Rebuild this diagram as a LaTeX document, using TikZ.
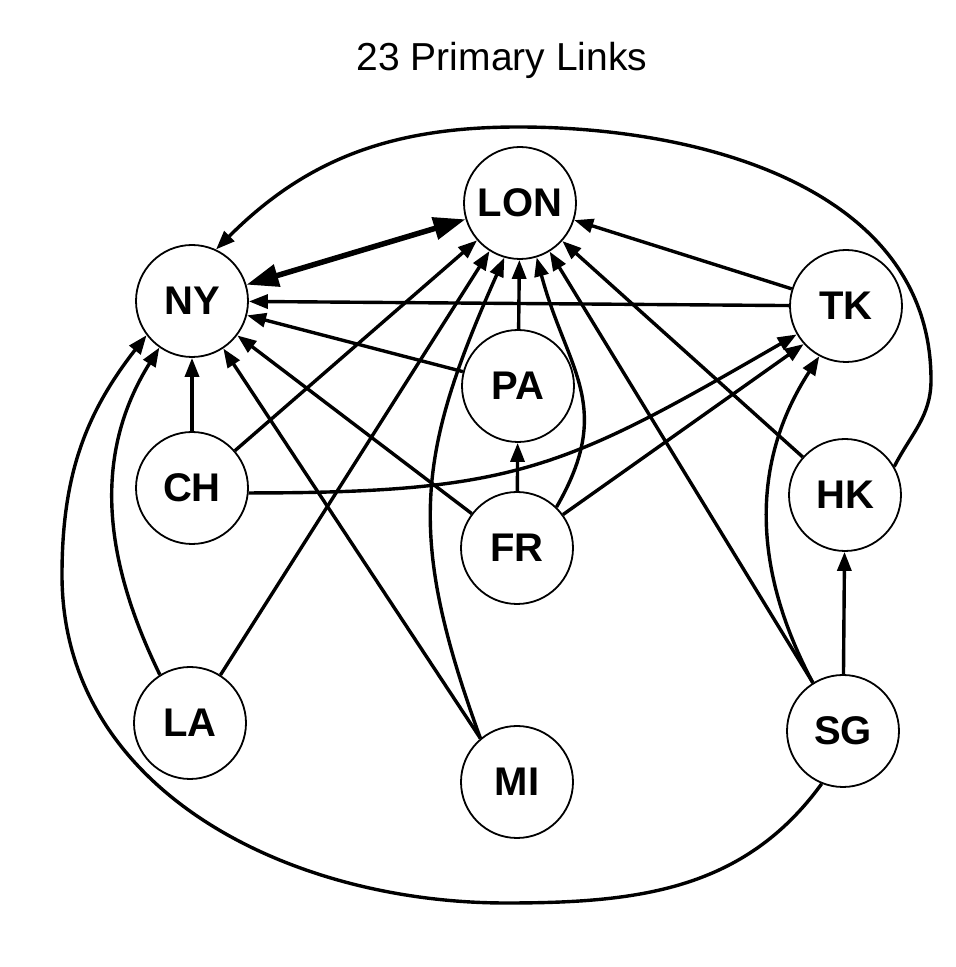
\documentclass[tikz,border=0pt]{standalone}
\usepackage{fontspec}
\setmainfont{Liberation Sans}
\usetikzlibrary{arrows.meta}
\begin{document}
\begin{tikzpicture}[x=1pt,y=1pt,
  city/.style={circle, draw, line width=1.8pt, minimum size=112pt, inner sep=0pt,
    font=\fontsize{40}{42}\selectfont\bfseries},
  link/.style={line width=3.4pt, -{Triangle[length=19pt,width=14pt]}},
  biglink/.style={line width=5.5pt, {Triangle[length=32pt,width=22pt]}-{Triangle[length=32pt,width=22pt]}}]
\useasboundingbox (0,0) rectangle (956,967);
\fill[white] (0,0) rectangle (956,967);
\node[font=\fontsize{39}{41}\selectfont] (title) at (502,907) {23 Primary Links};
\node[city] (LON) at (520,764) {LON};
\node[city] (NY) at (192,666) {NY};
\node[city] (TK) at (846,661) {TK};
\node[city] (PA) at (518,581) {PA};
\node[city] (CH) at (192,479) {CH};
\node[city] (HK) at (845,472) {HK};
\node[city] (FR) at (517,419) {FR};
\node[city] (LA) at (190,244) {LA};
\node[city] (MI) at (517,185) {MI};
\node[city] (SG) at (843,236) {SG};
\coordinate (bottom) at (506,64);
\coordinate (left) at (62,392);
\coordinate (right) at (931,587);
\coordinate (top) at (518,840);
% straight links
\draw[biglink] (NY) -- (LON);
\draw[link] (TK) -- (LON);
\draw[link] (TK) -- (NY);
\draw[link] (PA) -- (NY);
\draw[link] (PA) -- (LON);
\draw[link] (CH) -- (NY);
\draw[link] (CH) -- (LON);
\draw[link] (LA) -- (LON);
\draw[link] (FR) -- (PA);
\draw[link] (FR) -- (NY);
\draw[link] (FR.36) -- (TK.-138);
\draw[link] (MI.130) -- (NY);
\draw[link] (HK) -- (LON);
\draw[link] (SG.122) -- (LON);
\draw[link] (SG) -- (HK);
% curved links
\draw[link] (LA.122) to[out=116,in=-122] (NY.-125);
\draw[link] (CH.-5) to[out=0,in=-150,looseness=1.2] (TK.-150);
\draw[link] (FR.46) to[out=60,in=-75,looseness=1.2] (LON.-73);
\draw[link] (MI.130) to[out=110,in=-114,looseness=1.15] (LON.-106);
\draw[link] (SG.122) to[out=118,in=-123] (TK.-118);
\draw[link] (SG.-112) to[out=-126,in=0] (bottom) to[out=180,in=-90] (left) to[out=90,in=-128] (NY.-143);
\draw[link] (HK.30) to[out=63,in=-90] (right) to[out=90,in=0] (top) to[out=180,in=45] (NY.65);
\end{tikzpicture}
\end{document}
